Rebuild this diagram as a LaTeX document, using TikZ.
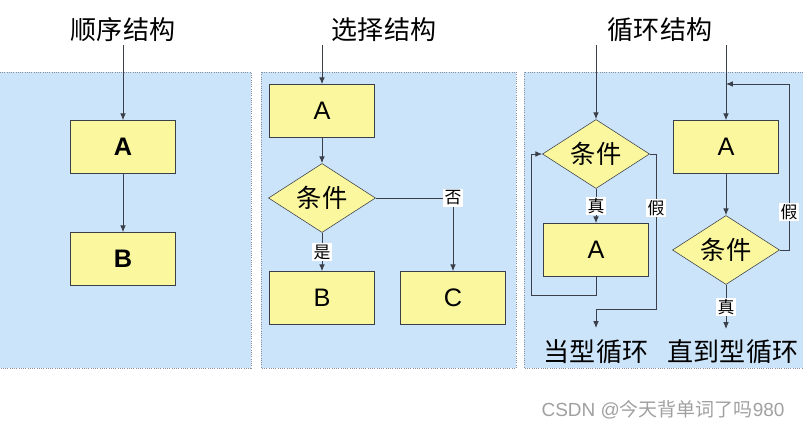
\documentclass[tikz,border=0pt]{standalone}
\usepackage{fontspec}
\setmainfont{Liberation Sans}
\newfontfamily\cjk{Noto Sans CJK SC}
\usepackage{xcolor}
\usetikzlibrary{arrows.meta,positioning,shapes.geometric}
\definecolor{panelblue}{HTML}{CCE4F9}
\definecolor{boxyellow}{HTML}{FBF79F}
\definecolor{linegray}{HTML}{3A3F4A}
\definecolor{framegray}{HTML}{8A9099}
\definecolor{markgray}{HTML}{A0A0A0}

\begin{document}
\begin{tikzpicture}[
  x=0.025cm, y=-0.025cm,
  font=\fontsize{18}{20}\selectfont,
  panel/.style={fill=panelblue},
  frame/.style={draw=framegray, densely dotted, line width=0.6pt},
  box/.style={draw=linegray, fill=boxyellow, minimum width=2.625cm, minimum height=1.325cm, inner sep=0pt},
  cond/.style={draw=linegray, fill=boxyellow, diamond, aspect=1.55, minimum width=2.675cm, minimum height=1.725cm, inner sep=0pt, font=\cjk\fontsize{18}{20}\selectfont},
  title/.style={font=\cjk\fontsize{18.5}{20}\selectfont},
  lbl/.style={fill=white, inner sep=1pt, font=\cjk\fontsize{12}{13}\selectfont},
  arr/.style={-{Latex[length=1.7mm,width=1.4mm]}, draw=linegray, line width=0.6pt}
]

\useasboundingbox (0,0) rectangle (803,429);

% panels
\fill[panel] (0,72) rectangle (251,368);
\fill[panel] (261,72) rectangle (516,368);
\fill[panel] (524,72) rectangle (803,368);
\draw[frame] (0,72) -| (251,368) -- (0,368);
\draw[frame] (261,72) rectangle (516,368);
\draw[frame] (803,72) -- (524,72) |- (803,368);

\node[title] (tseq) at (123,30) {顺序结构};
\node[title] (tsel) at (384,30) {选择结构};
\node[title] (tloop) at (660,30) {循环结构};

% sequence
\node[box, font=\bfseries\fontsize{18}{20}\selectfont] (seqA) at (123,147) {A};
\node[box, font=\bfseries\fontsize{18}{20}\selectfont] (seqB) at (123,259) {B};
\coordinate (in1) at (123,45);
\draw[arr] (in1) -- (seqA);
\draw[arr] (seqA) -- (seqB);

% selection
\coordinate (in2) at (322,45);
\node[box] (selA) at (322,111) {A};
\node[cond] (selC) at (322,198) {条件};
\node[box] (selB) at (322,298) {B};
\node[box] (selCc) at (453,298) {C};
\draw[arr] (in2) -- (selA);
\draw[arr] (selA) -- (selC);
\draw[arr] (selC) -- node[lbl] {是} (selB);
\draw[arr] (selC.east) -| node[lbl] {否} (selCc);

% while loop
\coordinate (in3) at (596,45);
\node[cond] (wC) at (596,154) {条件};
\node[box] (wA) at (596,250) {A};
\coordinate (wEnd) at (596,328);
\node[title] (wName) at (596,352) {当型循环};
\draw[arr] (in3) -- (wC);
\draw[arr] (wC) -- node[lbl] {真} (wA);
\draw[arr] (wA.south) |- (531,295) |- (wC.west);
\draw[arr] (wC.east) -| node[lbl, pos=0.675] {假} (656,309) -| (wEnd);

% until loop
\coordinate (in4) at (726,45);
\node[box] (uA) at (726,147) {A};
\node[cond] (uC) at (726,250) {条件};
\coordinate (uEnd) at (726,329);
\coordinate (uJoin) at (726,84);
\node[title] (uName) at (733,352) {直到型循环};
\draw[arr] (in4) -- (uA);
\draw[arr] (uA) -- (uC);
\draw[arr] (uC) -- node[lbl] {真} (uEnd);
\draw[arr] (uC.east) -| node[lbl, pos=0.615] {假} (789,84) -- (uJoin);

\node[font=\fontsize{13.5}{14}\selectfont, text=markgray] (mark) at (663,410) {CSDN @{\cjk 今天背单词了吗}980};

\end{tikzpicture}
\end{document}
